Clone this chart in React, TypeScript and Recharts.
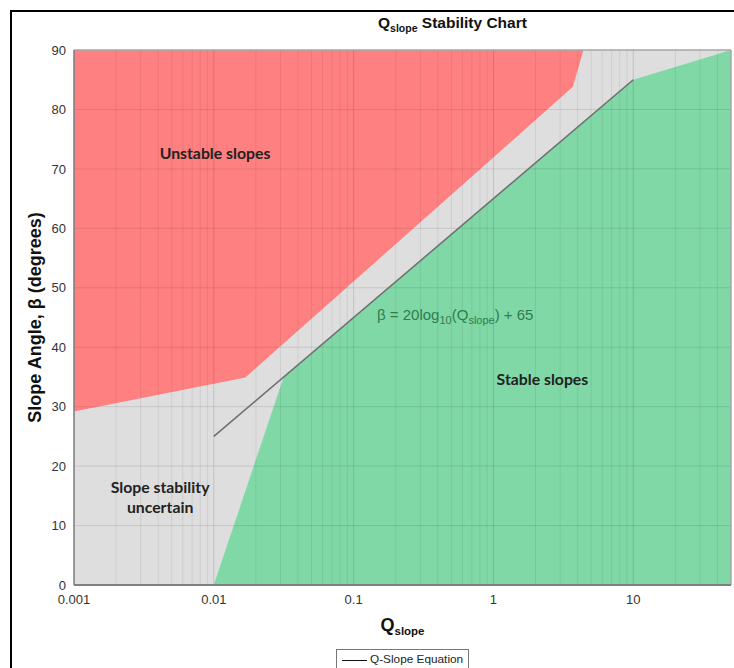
import React from 'react'
import { ComposedChart, Area, Line, XAxis, YAxis, ReferenceArea, ReferenceLine, ReferenceDot } from 'recharts'

// values (Q on a log axis, beta in degrees)
const qTicks = [0.001, 0.01, 0.1, 1, 10]
const betaTicks = [0, 10, 20, 30, 40, 50, 60, 70, 80, 90]

const unstableQ = [0.001, 0.0168, 3.7, 4.4]
const unstableLow = [29.2, 34.9, 83.8, 90]

const stableQ = [0.01, 0.0316, 10, 50]
const stableHigh = [0, 35, 85, 90]

const equationQ = [0.01, 10]
const equationBeta = [25, 85]

const unstableData = unstableQ.map((q, i) => ({ q, band: [unstableLow[i], 90] }))
const stableData = stableQ.map((q, i) => ({ q, beta: stableHigh[i] }))
const equationData = equationQ.map((q, i) => ({ q, beta: equationBeta[i] }))

// log grid: 1..9 for every decade
const minorQ: number[] = []
qTicks.forEach((d) => {
  for (let k = 1; k <= 9; k++) {
    const v = +(d * k).toPrecision(3)
    if (v < 50) minorQ.push(v)
  }
})

const sans = '"Liberation Sans", Arial, sans-serif'
const labelFont = 'Lato, "Open Sans", sans-serif'

const centerOf = (vb: any) => ({ x: vb.x + vb.width / 2, y: vb.y + vb.height / 2 })

const BoldNote = ({ viewBox, lines }: any) => {
  const c = centerOf(viewBox)
  const start = c.y - ((lines.length - 1) * 20) / 2
  return (
    <text x={c.x} y={start} textAnchor="middle" dominantBaseline="central" fontFamily={labelFont} fontWeight={700} fontSize={15.8} fill="#222">
      {lines.map((l: string, i: number) => (
        <tspan key={i} x={c.x} dy={i === 0 ? 0 : 20}>{l}</tspan>
      ))}
    </text>
  )
}

const EquationNote = ({ viewBox }: any) => {
  const c = centerOf(viewBox)
  return (
    <text x={c.x} y={c.y + 5} textAnchor="middle" fontFamily={sans} fontSize={15} fill="#2f7d4f">
      β = 20log<tspan dy={4} fontSize={11}>10</tspan>
      <tspan dy={-4}>(Q</tspan>
      <tspan dy={4} fontSize={11}>slope</tspan>
      <tspan dy={-4}>) + 65</tspan>
    </text>
  )
}

const XLabel = ({ viewBox }: any) => {
  const cx = viewBox.x + viewBox.width / 2
  return (
    <text x={cx} y={631} textAnchor="middle" fontFamily={sans} fontWeight={700} fontSize={18} fill="#111">
      Q<tspan dy={4} fontSize={11.5}>slope</tspan>
    </text>
  )
}

const YLabel = ({ viewBox }: any) => {
  const cy = viewBox.y + viewBox.height / 2
  const x = 41
  return (
    <text x={x} y={cy} transform={`rotate(-90, ${x}, ${cy})`} textAnchor="middle" fontFamily={sans} fontWeight={700} fontSize={18} fill="#111">
      Slope Angle, β (degrees)
    </text>
  )
}

const App = () => {
  return (
    <div style={{ position: 'absolute', left: 0, top: 0, width: 734, height: 668, background: '#fff', overflow: 'hidden' }}>
      <div style={{ position: 'absolute', left: 10, top: 10, width: 724, height: 700, borderTop: '2px solid #000', borderLeft: '2px solid #000' }} />
      <div style={{ position: 'absolute', left: 378, top: 14, fontFamily: sans, fontWeight: 700, fontSize: 15.5, color: '#111', whiteSpace: 'nowrap' }}>
        Q<span style={{ fontSize: 10.5, position: 'relative', top: 4 }}>slope</span> Stability Chart
      </div>

      <ComposedChart width={734} height={668} margin={{ top: 50, right: 3, left: 20, bottom: 53 }} style={{ position: 'absolute', left: 0, top: 0 }}>
        <XAxis
          dataKey="q"
          type="number"
          scale="log"
          domain={[0.001, 50]}
          ticks={qTicks}
          allowDataOverflow
          tickFormatter={(v) => String(v)}
          tick={{ fontFamily: sans, fontSize: 13, fill: '#333' }}
          tickLine={false}
          tickMargin={4}
          axisLine={{ stroke: '#808080', strokeWidth: 2 }}
          height={30}
          label={<XLabel />}
        />
        <YAxis
          type="number"
          domain={[0, 90]}
          ticks={betaTicks}
          allowDataOverflow
          tick={{ fontFamily: sans, fontSize: 13, fill: '#333' }}
          tickLine={false}
          axisLine={{ stroke: '#808080', strokeWidth: 1.5 }}
          width={54}
          label={<YLabel />}
        />

        <ReferenceArea x1={0.001} x2={50} y1={0} y2={90} fill="#dedede" fillOpacity={1} stroke="none" />

        <Area data={unstableData} dataKey="band" type="linear" fill="#ff8080" fillOpacity={1} stroke="none" isAnimationActive={false} />
        <Area data={stableData} dataKey="beta" type="linear" baseValue={0} fill="#80d8a6" fillOpacity={1} stroke="none" isAnimationActive={false} />

        {minorQ.map((v) => (
          <ReferenceLine key={'v' + v} x={v} stroke="#000" strokeOpacity={qTicks.includes(v) ? 0.13 : 0.07} strokeWidth={1} />
        ))}
        {betaTicks.slice(1, -1).map((v) => (
          <ReferenceLine key={'h' + v} y={v} stroke="#000" strokeOpacity={0.1} strokeWidth={1} />
        ))}
        <ReferenceLine y={90} stroke="#a6a6a6" strokeWidth={1.5} />
        <ReferenceLine x={50} stroke="#a6a6a6" strokeWidth={1.5} />

        <Line data={equationData} dataKey="beta" type="linear" stroke="#6e6e6e" strokeWidth={1.5} dot={false} isAnimationActive={false} />

        <ReferenceDot x={0.0102} y={72.8} r={1} fill="none" stroke="none" label={<BoldNote lines={['Unstable slopes']} />} />
        <ReferenceDot x={0.00413} y={15} r={1} fill="none" stroke="none" label={<BoldNote lines={['Slope stability', 'uncertain']} />} />
        <ReferenceDot x={2.24} y={34.8} r={1} fill="none" stroke="none" label={<BoldNote lines={['Stable slopes']} />} />
        <ReferenceDot x={0.533} y={45.4} r={1} fill="none" stroke="none" label={<EquationNote />} />
      </ComposedChart>

      <div style={{ position: 'absolute', left: 336, top: 649, width: 133, height: 30, border: '1px solid #777', background: '#fff', boxSizing: 'border-box' }}>
        <div style={{ position: 'absolute', left: 5, top: 10, width: 25, borderTop: '1px solid #111' }} />
        <div style={{ position: 'absolute', left: 33, top: 2, fontFamily: sans, fontSize: 11.8, color: '#222', whiteSpace: 'nowrap' }}>Q-Slope Equation</div>
      </div>
    </div>
  )
}

export default App
